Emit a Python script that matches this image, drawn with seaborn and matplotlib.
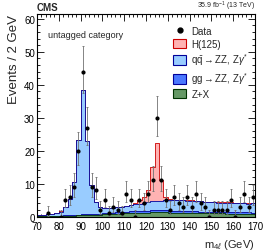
import numpy as np
import matplotlib
matplotlib.use("Agg")
import matplotlib.pyplot as plt
import seaborn as sns
from matplotlib.patches import Patch
from matplotlib.lines import Line2D
from matplotlib.ticker import MultipleLocator

# bin centres of the 2 GeV bins, 70-170 GeV
mass = [71, 73, 75, 77, 79, 81, 83, 85, 87, 89,
        91, 93, 95, 97, 99, 101, 103, 105, 107, 109,
        111, 113, 115, 117, 119, 121, 123, 125, 127, 129,
        131, 133, 135, 137, 139, 141, 143, 145, 147, 149,
        151, 153, 155, 157, 159, 161, 163, 165, 167, 169]
edges = [70 + 2 * i for i in range(51)]

# observed events (nan = no marker drawn)
data = [np.nan, np.nan, 1, np.nan, np.nan, 0, 5, 6, 9, 20,
        44, 27, 9, 8, 2, 5, 1, 3, 2, 1,
        7, 5, 0, 5, 4, 7, 11, 30, 11, 5,
        2, 6, 4, 3, 6, 3, 7, 4, 3, 0,
        2, 2, 2, 2, 5, 0, 3, 7, 3, 6]

# expectations per bin
zx = [0.05, 0.05, 0.1, 0.1, 0.15, 0.2, 0.2, 0.25, 0.3, 0.35,
      0.4, 0.45, 0.5, 0.55, 0.6, 0.7, 0.75, 0.8, 0.9, 0.95,
      1.0, 1.05, 1.1, 1.15, 1.2, 1.2, 1.25, 1.25, 1.25, 1.25,
      1.2, 1.2, 1.2, 1.15, 1.15, 1.1, 1.1, 1.05, 1.0, 1.0,
      1.0, 0.95, 0.95, 0.9, 0.9, 0.9, 0.85, 0.85, 0.85, 0.8]
ggzz = [0.1, 0.1, 0.1, 0.1, 0.12, 0.12, 0.15, 0.15, 0.2, 0.25,
        0.3, 0.3, 0.3, 0.3, 0.3, 0.35, 0.35, 0.4, 0.4, 0.4,
        0.45, 0.5, 0.5, 0.55, 0.55, 0.6, 0.6, 0.6, 0.6, 0.6,
        0.6, 0.6, 0.55, 0.55, 0.5, 0.5, 0.5, 0.45, 0.45, 0.45,
        0.4, 0.4, 0.4, 0.4, 0.4, 0.4, 0.4, 0.4, 0.4, 0.4]
qqzz = [0.35, 0.45, 0.5, 0.6, 0.7, 1.2, 2.6, 4.9, 10.0, 22.6,
        37.6, 22.2, 8.7, 3.5, 2.1, 1.6, 1.4, 1.4, 1.5, 1.6,
        1.8, 1.9, 2.1, 2.2, 2.4, 2.6, 2.8, 3.0, 3.0, 3.2,
        3.2, 3.2, 3.2, 3.2, 3.2, 3.2, 3.1, 3.1, 3.0, 3.0,
        3.0, 2.9, 2.9, 2.9, 2.9, 2.8, 2.8, 2.8, 2.7, 2.8]
h125 = [0.02, 0.02, 0.02, 0.02, 0.02, 0.03, 0.03, 0.03, 0.04, 0.05,
        0.05, 0.05, 0.05, 0.05, 0.05, 0.05, 0.06, 0.06, 0.07, 0.08,
        0.1, 0.2, 0.4, 1.0, 1.8, 3.6, 10.4, 17.4, 6.1, 1.0,
        0.3, 0.15, 0.1, 0.1, 0.1, 0.1, 0.1, 0.1, 0.1, 0.1,
        0.1, 0.1, 0.1, 0.1, 0.1, 0.1, 0.1, 0.1, 0.1, 0.1]

sns.set_theme(style="ticks")
plt.rcParams["font.family"] = ["Liberation Sans", "DejaVu Sans"]
plt.rcParams["mathtext.fontset"] = "custom"
plt.rcParams["mathtext.rm"] = "Liberation Sans"
plt.rcParams["mathtext.it"] = "Liberation Sans:italic"

fig = plt.figure(figsize=(2.66, 2.53), dpi=100)
ax = fig.add_axes([0.139, 0.140, 0.820, 0.801])

# stack: draw cumulative layers from the top down
layers = [
    ("H(125)", h125, "#ffb2b2", "#cc0000"),
    (r"q$\bar{\rm q}$$\rightarrow$ZZ, Z$\gamma^{*}$", qqzz, "#99ccff", "#000099"),
    (r"gg$\rightarrow$ZZ, Z$\gamma^{*}$", ggzz, "#4b78ff", "#000099"),
    ("Z+X", zx, "#669966", "#003300"),
]
stack = np.cumsum([np.array(l[1]) for l in layers[::-1]], axis=0)[::-1]
for (name, vals, fc, ec), cum in zip(layers, stack):
    sns.histplot(x=mass, weights=cum, bins=edges, element="step", fill=True,
                 color=fc, edgecolor=ec, alpha=1, linewidth=0.6, ax=ax)

# data with approximate Poisson (Garwood) intervals
d = np.array(data, dtype=float)
lo = np.where(d > 0, d - np.sqrt(np.clip(d - 0.25, 0, None)), 0)
hi = d + 1 + np.sqrt(d + 0.75)
ax.errorbar(mass, d, yerr=[d - lo, hi - d], fmt="none", ecolor="#707070",
            elinewidth=0.6, capsize=1.0, capthick=0.6, zorder=5)
sns.scatterplot(x=mass, y=d, color="black", s=9, linewidth=0, zorder=6, ax=ax)

ax.set_xlim(70, 170)
ax.set_ylim(0, 61.5)
ax.xaxis.set_major_locator(MultipleLocator(10))
ax.xaxis.set_minor_locator(MultipleLocator(2))
ax.yaxis.set_major_locator(MultipleLocator(10))
ax.yaxis.set_minor_locator(MultipleLocator(2))
ax.tick_params(which="both", direction="in", top=True, right=True,
               labelsize=7, width=0.6, colors="black")
ax.tick_params(axis="x", pad=3.5)
ax.tick_params(axis="y", pad=1.5)
ax.tick_params(which="major", length=5)
ax.tick_params(which="minor", length=2.5)
for s in ax.spines.values():
    s.set_linewidth(0.8)
    s.set_color("black")

ax.set_xlabel(r"m$_{4\ell}$ (GeV)", fontsize=8, loc="right", labelpad=4)
ax.set_ylabel("Events / 2 GeV", fontsize=9.5, loc="top", labelpad=3)

fig.text(0.139, 0.948, "CMS", fontsize=7, fontweight="bold", ha="left", va="bottom")
fig.text(0.959, 0.948, r"35.9 fb$^{-1}$ (13 TeV)", fontsize=5, ha="right", va="bottom")
ax.text(0.05, 0.92, "untagged category", transform=ax.transAxes, fontsize=6.5,
        ha="left", va="top")

handles = [Line2D([], [], marker="o", color="black", markersize=3.5, linestyle="none")]
handles += [Patch(facecolor=fc, edgecolor=ec, linewidth=0.8) for _, _, fc, ec in layers]
labels = ["Data"] + [l[0] for l in layers]
ax.legend(handles, labels, loc="upper right", bbox_to_anchor=(1.0, 0.975),
          frameon=False, fontsize=7, handlelength=1.4, handleheight=1.1,
          handletextpad=0.5, labelspacing=0.3, borderaxespad=0.3)

fig.savefig("out.png", dpi=100)
